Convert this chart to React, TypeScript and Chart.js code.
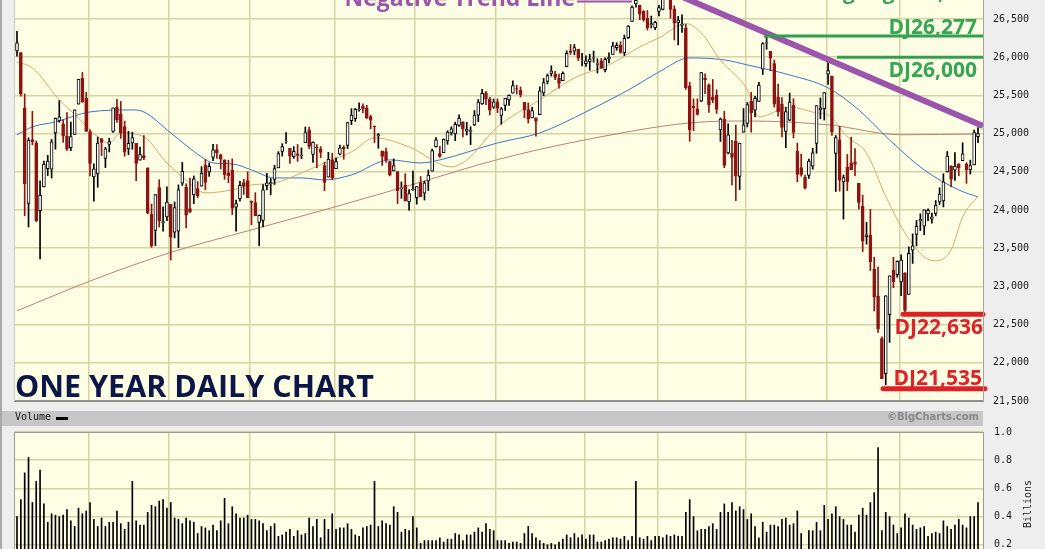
import React, { useEffect, useRef } from 'react';
import { Chart, registerables } from 'chart.js';

Chart.register(...registerables);

// ---- DATA (Feb 1 2018 .. Jan 31 2019, daily) ----
const monthNames = ['Mar', 'Apr', 'May', 'Jun', 'Jul', 'Aug', 'Sep', 'Oct', 'Nov', 'Dec', 'Jan'];
const monthStarts = [19, 40, 61, 83, 104, 125, 148, 167, 190, 211, 230];
const priceTicks = [21500, 22000, 22500, 23000, 23500, 24000, 24500, 25000, 25500, 26000, 26500];
const volumeTicks = [0, 0.2, 0.4, 0.6, 0.8, 1.0];

const opens = [
  26083,26062,25338,24085,24922,24879,23993,24303,24541,24535,25010,25165,25124,24964,24815,24991,25386,25725,25461,
  25025,24434,24471,24934,24674,24858,25030,25345,25260,25091,24799,24878,24874,24653,24712,24552,23943,23733,24295,23835,23909,
  24076,23709,23722,24352,24300,24019,24198,24280,24313,24585,24500,24688,24790,24724,24657,24488,24520,24037,24150,24360,24385,
  24117,24097,23836,23865,24317,24341,24399,24552,24767,24897,24809,24699,24737,24711,24883,25047,24729,24822,24800,24582,24431,24658,
  24542,24730,24822,24845,25169,25197,25310,25356,25332,25224,25099,24971,24773,24764,24634,24511,24502,24278,24323,24106,24265,
  24161,24360,24222,24382,24510,24829,24738,24751,24906,25009,24996,25108,25154,25032,25029,25115,25240,25390,25535,25451,25347,
  25417,25239,25370,25442,25531,25591,25566,25408,25313,25205,25208,25247,25532,25683,25788,25779,25725,25693,25875,26083,26079,26104,25961,
  25916,25941,25989,25907,25953,25837,25981,26037,26124,26159,26061,26257,26468,26697,26681,26601,26509,26424,26386,
  26598,26627,26833,26793,26632,26451,26415,26381,25627,25356,25325,25425,25727,25637,25474,25504,25047,25192,24748,24744,24900,24440,25018,
  25135,25426,25306,25420,25843,26183,26078,25918,25478,25388,25028,25177,25370,24767,24557,24427,24452,24573,24871,25310,25326,
  25779,25752,24741,24918,24368,24562,24615,24632,24350,24051,23650,23671,23224,22872,22318,21857,22630,23213,23154,
  23058,23177,22894,23474,23680,23858,23789,23949,23880,23955,24107,24119,24497,24579,24522,24606,24645,24600,24526,24589,24960,
];
const highs = [
  26338,26062,25520,24946,25293,24904,24382,24640,24715,24925,25203,25432,25179,25275,25152,25310,25709,25800,25542,
  25050,24606,24955,24934,24822,24940,25335,25449,25421,25163,25032,25018,24874,24824,24975,24552,24078,24204,24396,24041,24302,
  24076,24106,24329,24623,24342,24419,24446,24373,24567,24663,24616,24859,24858,24724,24657,24653,24670,24130,24376,24403,24500,
  24118,24227,23936,24333,24479,24412,24586,24764,24868,25012,24809,24830,24858,24813,25087,25086,24894,24856,24830,24625,24755,24742,
  24682,24850,24843,25147,25327,25331,25402,25389,25370,25242,25099,25002,24773,24811,24637,24669,24502,24368,24476,24268,24510,
  24309,24439,24378,24523,24797,24947,24835,24930,25037,25090,25150,25245,25154,25149,25090,25302,25446,25580,25553,25475,25453,
  25455,25342,25463,25508,25692,25634,25611,25408,25403,25344,25208,25613,25722,25781,25888,25816,25780,25809,26085,26167,26167,26104,26050,
  26017,26039,26081,25980,25983,25993,26056,26197,26190,26203,26290,26415,26673,26769,26681,26611,26611,26538,26471,
  26679,26790,26951,26794,26673,26535,26555,26429,25674,25455,25455,25801,25781,25651,25709,25573,25206,25292,25128,24913,25111,24875,25328,
  25407,25541,25488,25670,26191,26277,26078,25964,25648,25471,25342,25530,25457,24876,24731,24458,24668,24810,25366,25467,25538,
  25980,25753,24975,25096,24458,24727,24950,24803,24350,24195,23838,24009,23382,23254,22339,22879,23139,23382,23334,
  23413,23177,23518,23687,23864,23951,24002,24017,23960,24124,24290,24474,24766,24579,24751,24606,24880,24620,24653,25046,25080,
];
const lows = [
  26015,25490,23924,23778,24853,23849,23360,24303,24451,24419,24797,25149,24884,24779,24777,24991,25386,25410,25029,
  24447,24116,24298,24714,24555,24760,25015,25148,24939,24704,24723,24796,24384,24653,24660,23950,23510,23534,23777,23724,23859,
  23345,23635,23509,24321,23764,23964,24084,24160,24313,24264,24440,24646,24676,24537,24401,24358,23940,23724,24115,24205,24161,
  23808,23925,23531,23778,24263,24198,24334,24552,24706,24872,24610,24676,24636,24674,24883,24803,24622,24553,24683,24252,24431,24399,
  24542,24720,24665,24804,25118,25162,25295,25270,25199,25063,24883,24808,24584,24623,24445,24511,24085,24152,24117,23997,24258,
  24077,24175,24130,24255,24510,24822,24688,24751,24860,24980,24907,25095,24957,24982,24855,25104,25156,25382,25380,25246,25330,
  25275,25123,25303,25370,25531,25517,25480,25207,25138,25205,24965,25247,25497,25650,25752,25706,25594,25693,25875,26036,26032,25956,25886,
  25881,25830,25934,25794,25853,25808,25925,26035,26091,26051,26023,26245,26468,26656,26492,26471,26356,26382,26360,
  26540,26620,26814,26511,26226,26161,26325,25577,24900,25038,25243,25418,25524,25276,25404,25264,24897,24553,24733,24328,24122,24268,25018,
  25088,25019,25218,25420,25774,26104,25822,25346,25229,24958,24815,25170,24944,24368,24442,24276,24412,24534,24743,25194,25177,
  25645,24977,24242,24247,23881,24253,24525,24450,24012,23456,23553,23207,22678,22397,21792,21712,22267,22982,23119,
  22880,22638,22894,23301,23530,23731,23677,23859,23829,23923,24072,24040,24497,24303,24388,24448,24645,24349,24470,24589,24880,
];
const closes = [
  26187,25521,24346,24913,24893,23860,24191,24601,24640,24893,25200,25219,24965,24798,24962,25310,25709,25410,25029,
  24609,24538,24875,24884,24801,24895,25336,25179,25007,24758,24874,24947,24611,24727,24682,23958,23533,24203,23858,23848,24103,
  23644,24033,24264,24505,23933,23979,24408,24189,24483,24360,24573,24787,24748,24665,24463,24449,24024,24084,24322,24311,24163,
  24099,23925,23930,24263,24357,24360,24543,24740,24831,24899,24706,24769,24714,24715,25013,24834,24887,24812,24753,24361,24668,24416,
  24635,24814,24800,25146,25241,25317,25322,25321,25201,25175,25090,24987,24700,24658,24462,24581,24253,24283,24118,24216,24271,
  24307,24175,24357,24456,24777,24920,24700,24925,25019,25064,25120,25199,25065,25058,25044,25242,25414,25527,25451,25307,25415,
  25334,25326,25463,25502,25629,25584,25509,25313,25188,25300,25162,25559,25669,25759,25822,25734,25657,25790,26050,26064,26125,25987,25965,
  25952,25975,25996,25917,25857,25971,25999,26146,26155,26062,26247,26406,26657,26744,26562,26492,26385,26440,26458,
  26651,26774,26828,26627,26447,26487,26431,25599,25053,25340,25251,25798,25707,25379,25444,25317,25191,24583,24985,24688,24443,24875,25116,
  25381,25271,25462,25635,26180,26191,25989,25387,25286,25081,25289,25413,25017,24466,24465,24286,24640,24749,25366,25339,25538,
  25826,25027,24948,24389,24423,24370,24527,24597,24101,23593,23676,23324,22860,22445,21792,22878,23139,23062,23327,
  23346,22686,23433,23531,23787,23879,24002,23996,23910,24066,24207,24370,24706,24404,24576,24553,24737,24528,24580,25015,25000,
];
// volume, billions of shares
const volumes = [
  0.40,0.52,0.71,0.82,0.50,0.65,0.73,0.49,0.36,0.42,0.41,0.40,0.41,0.45,0.37,0.33,0.46,0.42,0.44,
  0.50,0.38,0.33,0.39,0.33,0.36,0.36,0.44,0.35,0.31,0.36,0.65,0.37,0.34,0.34,0.43,0.48,0.47,0.51,0.52,0.46,
  0.50,0.39,0.38,0.35,0.39,0.37,0.36,0.28,0.33,0.32,0.30,0.34,0.30,0.37,0.53,0.35,0.47,0.42,0.39,0.39,0.41,
  0.38,0.38,0.37,0.35,0.30,0.33,0.35,0.26,0.27,0.29,0.31,0.26,0.30,0.27,0.28,0.39,0.33,0.38,0.25,0.38,0.31,0.42,
  0.31,0.32,0.32,0.35,0.31,0.27,0.26,0.32,0.33,0.34,0.65,0.33,0.37,0.35,0.34,0.47,0.43,0.29,0.31,0.30,0.40,
  0.32,0.21,0.23,0.23,0.23,0.23,0.25,0.22,0.24,0.24,0.28,0.27,0.23,0.27,0.27,0.29,0.32,0.29,0.35,0.31,0.30,
  0.23,0.23,0.23,0.21,0.22,0.22,0.21,0.28,0.33,0.28,0.25,0.23,0.21,0.20,0.21,0.20,0.22,0.24,0.27,0.25,0.28,0.25,0.27,
  0.24,0.27,0.27,0.22,0.22,0.23,0.24,0.25,0.25,0.24,0.26,0.23,0.26,0.65,0.25,0.24,0.26,0.23,0.26,
  0.26,0.25,0.27,0.26,0.27,0.26,0.26,0.43,0.52,0.40,0.30,0.31,0.31,0.33,0.35,0.31,0.43,0.49,0.43,0.50,0.44,0.47,0.45,
  0.38,0.42,0.33,0.25,0.36,0.29,0.34,0.34,0.33,0.38,0.39,0.34,0.35,0.44,0.28,0.17,0.30,0.30,0.36,0.30,0.48,
  0.38,0.42,0.47,0.40,0.38,0.34,0.34,0.29,0.41,0.46,0.41,0.50,0.57,0.89,0.30,0.43,0.40,0.34,0.28,
  0.32,0.42,0.39,0.34,0.31,0.32,0.33,0.26,0.28,0.29,0.28,0.37,0.33,0.31,0.34,0.38,0.34,0.32,0.40,0.40,0.50,
];

// moving averages (day index, value)
const ma20Idx = [0,4,11,16,19,24,27,33,39,44,49,56,61,67,74,80,87,93,102,113,117,125,136,145,154,162,167,174,178,183,190,193,201,208,211,216,221,226,231,236,239,243,246,250];
const ma20 = [25938,25860,25441,25205,25048,24878,25009,24957,24616,24394,24224,24263,24328,24354,24485,24616,24760,24944,24826,24564,24656,25088,25441,25729,25899,26135,26253,26440,26318,25960,25572,25218,25349,25271,25245,24957,24747,24180,23700,23386,23334,23478,23910,24180];
const ma50Idx = [0,4,10,19,30,33,40,48,51,56,61,67,74,80,87,97,105,110,125,136,148,160,167,175,184,190,201,211,219,227,236,245,250];
const ma50 = [24983,25088,25153,25284,25310,25284,25009,24695,24616,24603,24525,24420,24420,24394,24459,24656,24616,24656,24878,25009,25284,25598,25807,25991,25965,25899,25768,25598,25310,24917,24525,24263,24171];
const ma200Idx = [0,19,40,61,83,104,125,148,175,190,211,230,250];
const ma200 = [22680,23070,23445,23740,24045,24350,24660,24920,25140,25165,25115,24985,24995];

// annotation levels
const levelLabels = ['DJ26,277', 'DJ26,000', 'DJ22,636', 'DJ21,535'];
const levelValues = [26277, 26000, 22636, 21660];
const levelStart = [194.3, 213.3, 230.5, 225.3];
const levelEnd = [251.3, 251.3, 251.3, 251.8];
const trendIdx = [162, 251.3];
const trendVals = [27028, 25101];
const connectorIdx = [145.7, 160];
const connectorVal = 26730;
const trendLabel = 'Negative Trend Line';
const topLabel = 'Closing High 26,828';
const chartTitle = 'ONE YEAR DAILY CHART';

// ---- STYLE ----
const PLOT_BG = 'rgb(254,254,228)';
const GRID = 'rgb(213,211,166)';
const DOWN = 'rgb(142,20,20)';
const GREEN = 'rgb(52,166,84)';
const RED = 'rgb(222,34,40)';
const PURPLE = 'rgb(155,85,170)';
const MONO = '"DejaVu Sans Mono", monospace';
const X_MIN = -0.52;
const X_MAX = 251.3;

const bgPlugin = {
  id: 'plotBg',
  beforeDraw(chart: any) {
    const { ctx, chartArea: a } = chart;
    ctx.save();
    ctx.fillStyle = PLOT_BG;
    ctx.fillRect(a.left, a.top, a.right - a.left, a.bottom - a.top);
    ctx.restore();
  },
};

function xScale() {
  return {
    type: 'linear',
    min: X_MIN,
    max: X_MAX,
    offset: false,
    ticks: { display: false },
    grid: { color: GRID, lineWidth: 1.5, drawTicks: false, offset: false },
    border: { display: false },
    afterBuildTicks: (s: any) => {
      s.ticks = monthStarts.map((v) => ({ value: v - 0.4 }));
    },
    afterFit: (s: any) => {
      s.height = 0;
      s.paddingLeft = 0;
      s.paddingRight = 0;
    },
  };
}

export default function App() {
  const priceRef = useRef<HTMLCanvasElement>(null);
  const volRef = useRef<HTMLCanvasElement>(null);

  useEffect(() => {
    const idx = closes.map((_, i) => i);
    const up = closes.map((c, i) => c >= opens[i]);

    const pricePlugin = {
      id: 'priceText',
      afterDraw(chart: any) {
        const { ctx, chartArea: a, scales } = chart;
        const ys = scales.y;
        const xs = scales.x;
        ctx.save();
        // frame
        ctx.fillStyle = '#8e8e8e';
        ctx.fillRect(a.left - 1, a.bottom - 1, a.right - a.left + 2, 2);
        ctx.fillStyle = '#a3a3a3';
        ctx.fillRect(a.right, a.top, 1, a.bottom - a.top);
        ctx.fillStyle = '#c9c9c9';
        ctx.fillRect(a.left - 1, a.top, 1, a.bottom - a.top);

        ctx.textBaseline = 'alphabetic';
        ctx.font = 'bold 21px "Open Sans"';
        ctx.textAlign = 'right';
        const shifts = [-2, 20, 20, -4];
        const insets = [6, 6, 0, 1];
        levelLabels.forEach((t, k) => {
          ctx.fillStyle = k < 2 ? GREEN : RED;
          ctx.fillText(t, a.right - insets[k], ys.getPixelForValue(levelValues[k]) + shifts[k]);
        });
        // cut-off label top right
        ctx.fillStyle = GREEN;
        ctx.fillText(topLabel, a.right - 3, a.top - 1);

        // trend label
        ctx.font = 'bold 23px "Open Sans"';
        ctx.fillStyle = PURPLE;
        ctx.fillText(trendLabel, xs.getPixelForValue(connectorIdx[0]) - 2, a.top + 6);

        // title
        ctx.textAlign = 'left';
        ctx.font = 'bold 30.5px "Open Sans"';
        ctx.fillStyle = 'rgb(12,22,72)';
        ctx.fillText(chartTitle, a.left, a.bottom - 4);
        ctx.restore();
      },
    };

    const lineDs = (xsArr: number[], vals: number[], color: string, order: number) => ({
      type: 'line',
      data: xsArr.map((x, k) => ({ x, y: vals[k] })),
      borderColor: color,
      borderWidth: 1,
      pointRadius: 0,
      fill: false,
      cubicInterpolationMode: 'monotone',
      order,
    });

    const levelDs = levelValues.map((v, k) => ({
      type: 'line',
      data: [
        { x: levelStart[k], y: v },
        { x: levelEnd[k], y: v },
      ],
      borderColor: k < 2 ? 'rgb(48,160,78)' : RED,
      borderWidth: k < 2 ? 3 : 5,
      borderCapStyle: k < 2 ? 'butt' : 'round',
      pointRadius: 0,
      fill: false,
      clip: k < 2 ? undefined : false,
      order: -2,
    }));

    const price = new Chart(priceRef.current as HTMLCanvasElement, {
      type: 'bar',
      data: {
        datasets: [
          {
            type: 'bar',
            label: 'body',
            data: idx.map((i) => ({ x: i, y: [Math.min(opens[i], closes[i]), Math.max(opens[i], closes[i])] })),
            backgroundColor: up.map((u) => (u ? '#ffffff' : DOWN)),
            borderColor: up.map((u) => (u ? '#000000' : DOWN)),
            borderWidth: 1,
            borderSkipped: false,
            barThickness: 3,
            grouped: false,
            order: 0,
          },
          {
            type: 'bar',
            label: 'wick',
            data: idx.map((i) => ({ x: i, y: [lows[i], highs[i]] })),
            backgroundColor: up.map((u) => (u ? '#000000' : DOWN)),
            borderWidth: 0,
            barThickness: 1,
            grouped: false,
            order: 1,
          },
          lineDs(ma20Idx, ma20, 'rgb(206,174,112)', 2),
          lineDs(ma50Idx, ma50, 'rgb(58,118,200)', 3),
          lineDs(ma200Idx, ma200, 'rgb(192,128,118)', 4),
          ...levelDs,
          {
            type: 'line',
            data: trendIdx.map((x, k) => ({ x, y: trendVals[k] })),
            borderColor: PURPLE,
            borderWidth: 6,
            pointRadius: 0,
            fill: false,
            order: -1,
          },
          {
            type: 'line',
            data: connectorIdx.map((x) => ({ x, y: connectorVal })),
            borderColor: PURPLE,
            borderWidth: 2,
            pointRadius: 0,
            fill: false,
            order: -1,
          },
        ] as any,
      },
      options: {
        animation: false,
        responsive: false,
        events: [],
        layout: { padding: { left: 15, right: 0, top: 0, bottom: 11 } },
        plugins: { legend: { display: false }, tooltip: { enabled: false } },
        scales: {
          x: xScale() as any,
          y: {
            position: 'right',
            min: 21500,
            max: 26749,
            afterBuildTicks: (s: any) => {
              s.ticks = priceTicks.map((v) => ({ value: v }));
            },
            ticks: {
              padding: 10,
              color: '#1a1a1a',
              font: { family: MONO, size: 10 },
              callback: (v: any) => Number(v).toLocaleString('en-US'),
            },
            grid: { color: GRID, lineWidth: 1.5, drawTicks: false },
            border: { display: false },
            afterFit: (s: any) => {
              s.width = 62;
              s.paddingTop = 0;
              s.paddingBottom = 0;
            },
          } as any,
        },
      },
      plugins: [bgPlugin, pricePlugin],
    });

    const volPlugin = {
      id: 'volText',
      afterDraw(chart: any) {
        const { ctx, chartArea: a } = chart;
        ctx.save();
        ctx.fillStyle = '#9a9a9a';
        ctx.fillRect(a.left - 1, a.top, a.right - a.left + 2, 1);
        ctx.fillRect(a.left - 1, a.top, 1, a.bottom - a.top);
        ctx.fillRect(a.right, a.top, 1, a.bottom - a.top);
        ctx.translate(a.right + 45, a.top + 72);
        ctx.rotate(-Math.PI / 2);
        ctx.font = '10px ' + MONO;
        ctx.fillStyle = '#1a1a1a';
        ctx.textAlign = 'center';
        ctx.textBaseline = 'middle';
        ctx.fillText('Billions', 0, 0);
        ctx.restore();
      },
    };

    const vol = new Chart(volRef.current as HTMLCanvasElement, {
      type: 'bar',
      data: {
        datasets: [
          {
            label: 'Volume',
            data: idx.map((i) => ({ x: i, y: volumes[i] })),
            backgroundColor: '#000000',
            borderWidth: 0,
            barThickness: 1,
            grouped: false,
          },
        ] as any,
      },
      options: {
        animation: false,
        responsive: false,
        events: [],
        layout: { padding: { left: 15, right: 0, top: 6, bottom: 13 } },
        plugins: { legend: { display: false }, tooltip: { enabled: false } },
        scales: {
          x: xScale() as any,
          y: {
            position: 'right',
            min: 0,
            max: 1,
            afterBuildTicks: (s: any) => {
              s.ticks = volumeTicks.map((v) => ({ value: v }));
            },
            ticks: {
              padding: 11,
              color: '#1a1a1a',
              font: { family: MONO, size: 10 },
              callback: (v: any) => Number(v).toFixed(1),
            },
            grid: { color: GRID, lineWidth: 1.5, drawTicks: false },
            border: { display: false },
            afterFit: (s: any) => {
              s.width = 62;
              s.paddingTop = 0;
              s.paddingBottom = 0;
            },
          } as any,
        },
      },
      plugins: [bgPlugin, volPlugin],
    });

    return () => {
      price.destroy();
      vol.destroy();
    };
  }, []);

  return (
    <div
      style={{
        position: 'fixed',
        left: 0,
        top: 0,
        width: 1045,
        height: 549,
        overflow: 'hidden',
        background: '#eeeeee',
      }}
    >
      <div style={{ position: 'absolute', left: 0, top: 0, width: 2, height: 549, background: '#a9a9a9' }} />
      <canvas
        ref={priceRef}
        width={1045}
        height={412}
        style={{ position: 'absolute', left: 0, top: 0, width: 1045, height: 412 }}
      />
      <div
        style={{
          position: 'absolute',
          left: 2,
          top: 411,
          width: 981,
          height: 15,
          background: '#c7c7c7',
        }}
      >
        <span
          style={{
            position: 'absolute',
            left: 13,
            top: 0,
            lineHeight: '15px',
            font: '10px "DejaVu Sans Mono", monospace',
            color: '#111',
          }}
        >
          Volume
        </span>
        <span style={{ position: 'absolute', left: 54, top: 6, width: 12, height: 3, background: '#000' }} />
        <span
          style={{
            position: 'absolute',
            right: 4,
            top: 0,
            lineHeight: '15px',
            font: 'bold 10px "DejaVu Sans", sans-serif',
            color: '#8a8a8a',
          }}
        >
          ©BigCharts.com
        </span>
      </div>
      <canvas
        ref={volRef}
        width={1045}
        height={160}
        style={{ position: 'absolute', left: 0, top: 426, width: 1045, height: 160 }}
      />
    </div>
  );
}
